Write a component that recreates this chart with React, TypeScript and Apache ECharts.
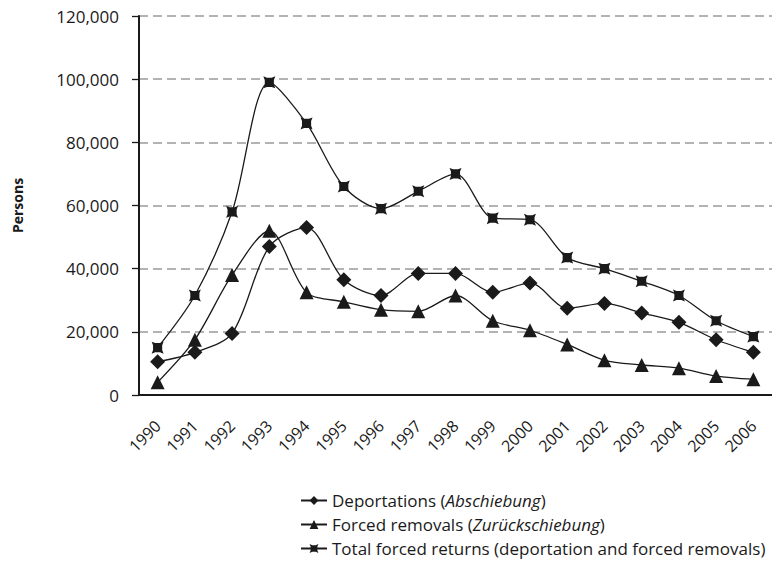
import React, { useEffect, useRef } from "react";
import * as echarts from "echarts";

const years = ["1990","1991","1992","1993","1994","1995","1996","1997","1998","1999","2000","2001","2002","2003","2004","2005","2006"];
const deportations = [10500,13500,19500,47000,53000,36500,31500,38500,38500,32500,35500,27500,29000,26000,23000,17500,13500];
const forcedRemovals = [4000,17500,38000,52000,32500,29500,27000,26500,31500,23500,20500,16000,11000,9500,8500,6000,5000];
const totalReturns = [15000,31500,58000,99000,86000,66000,59000,64500,70000,56000,55500,43500,40000,36000,31500,23500,18500];
const seriesNames = [
  "Deportations (Abschiebung)",
  "Forced removals (Zurückschiebung)",
  "Total forced returns (deportation and forced removals)",
];
const legendLabels: Record<string, string> = {
  [seriesNames[0]]: "Deportations ({i|Abschiebung})",
  [seriesNames[1]]: "Forced removals ({i|Zurückschiebung})",
  [seriesNames[2]]: "Total forced returns (deportation and forced removals)",
};

const FONT = "'Open Sans', Lato, sans-serif";
const INK = "#1a1a1a";
const totalSymbol = "path://M0,0 L3,1.2 L7,1.2 L10,0 L8.8,3 L8.8,7 L10,10 L7,8.8 L3,8.8 L0,10 L1.2,7 L1.2,3 Z";

export default function App() {
  const ref = useRef<HTMLDivElement>(null);
  useEffect(() => {
    if (!ref.current) return;
    const chart = echarts.init(ref.current, undefined, { renderer: "svg" });
    const lineStyle = { color: INK, width: 1.3 };
    chart.setOption({
      animation: false,
      backgroundColor: "#ffffff",
      grid: { left: 139, right: -3, top: 16, bottom: 179, containLabel: false },
      legend: {
        orient: "vertical",
        left: 295,
        top: 487,
        itemWidth: 26,
        itemHeight: 11,
        itemGap: 7,
        data: seriesNames,
        formatter: (name: string) => legendLabels[name],
        textStyle: {
          fontFamily: FONT,
          fontSize: 17,
          color: INK,
          lineHeight: 17,
          rich: { i: { fontFamily: FONT, fontSize: 17, fontStyle: "italic", color: INK, lineHeight: 17 } },
        },
      },
      xAxis: {
        type: "category",
        data: years,
        boundaryGap: true,
        axisLine: { lineStyle: { color: INK, width: 2 } },
        axisTick: { length: 6, lineStyle: { color: INK, width: 1.3 } },
        axisLabel: { rotate: 45, margin: 28, fontFamily: FONT, fontSize: 16, color: INK },
      },
      yAxis: {
        type: "value",
        min: 0,
        max: 120000,
        interval: 20000,
        name: "Persons",
        nameLocation: "middle",
        nameGap: 115,
        nameTextStyle: { fontFamily: FONT, fontSize: 14, fontWeight: "bold", color: INK },
        axisLine: { show: true, lineStyle: { color: INK, width: 2 } },
        axisTick: { show: true, length: 7, lineStyle: { color: INK, width: 1.3 } },
        axisLabel: {
          margin: 20,
          fontFamily: FONT,
          fontSize: 17,
          color: INK,
          formatter: (v: number) => v.toLocaleString("en-US"),
        },
        splitLine: { lineStyle: { color: "#9a9a9a", width: 1.5, type: [9, 5] } },
      },
      series: [
        {
          name: seriesNames[0],
          type: "line",
          data: deportations,
          smooth: 0.3,
          symbol: "diamond",
          symbolSize: 15,
          itemStyle: { color: INK },
          lineStyle,
        },
        {
          name: seriesNames[1],
          type: "line",
          data: forcedRemovals,
          smooth: 0.3,
          symbol: "triangle",
          symbolSize: 14,
          itemStyle: { color: INK },
          lineStyle,
        },
        {
          name: seriesNames[2],
          type: "line",
          data: totalReturns,
          smooth: 0.3,
          symbol: totalSymbol,
          symbolSize: 12,
          itemStyle: { color: INK },
          lineStyle,
        },
      ],
    });
    return () => chart.dispose();
  }, []);
  return (
    <div
      ref={ref}
      style={{ position: "absolute", left: 0, top: 0, width: 772, height: 574 }}
    />
  );
}
